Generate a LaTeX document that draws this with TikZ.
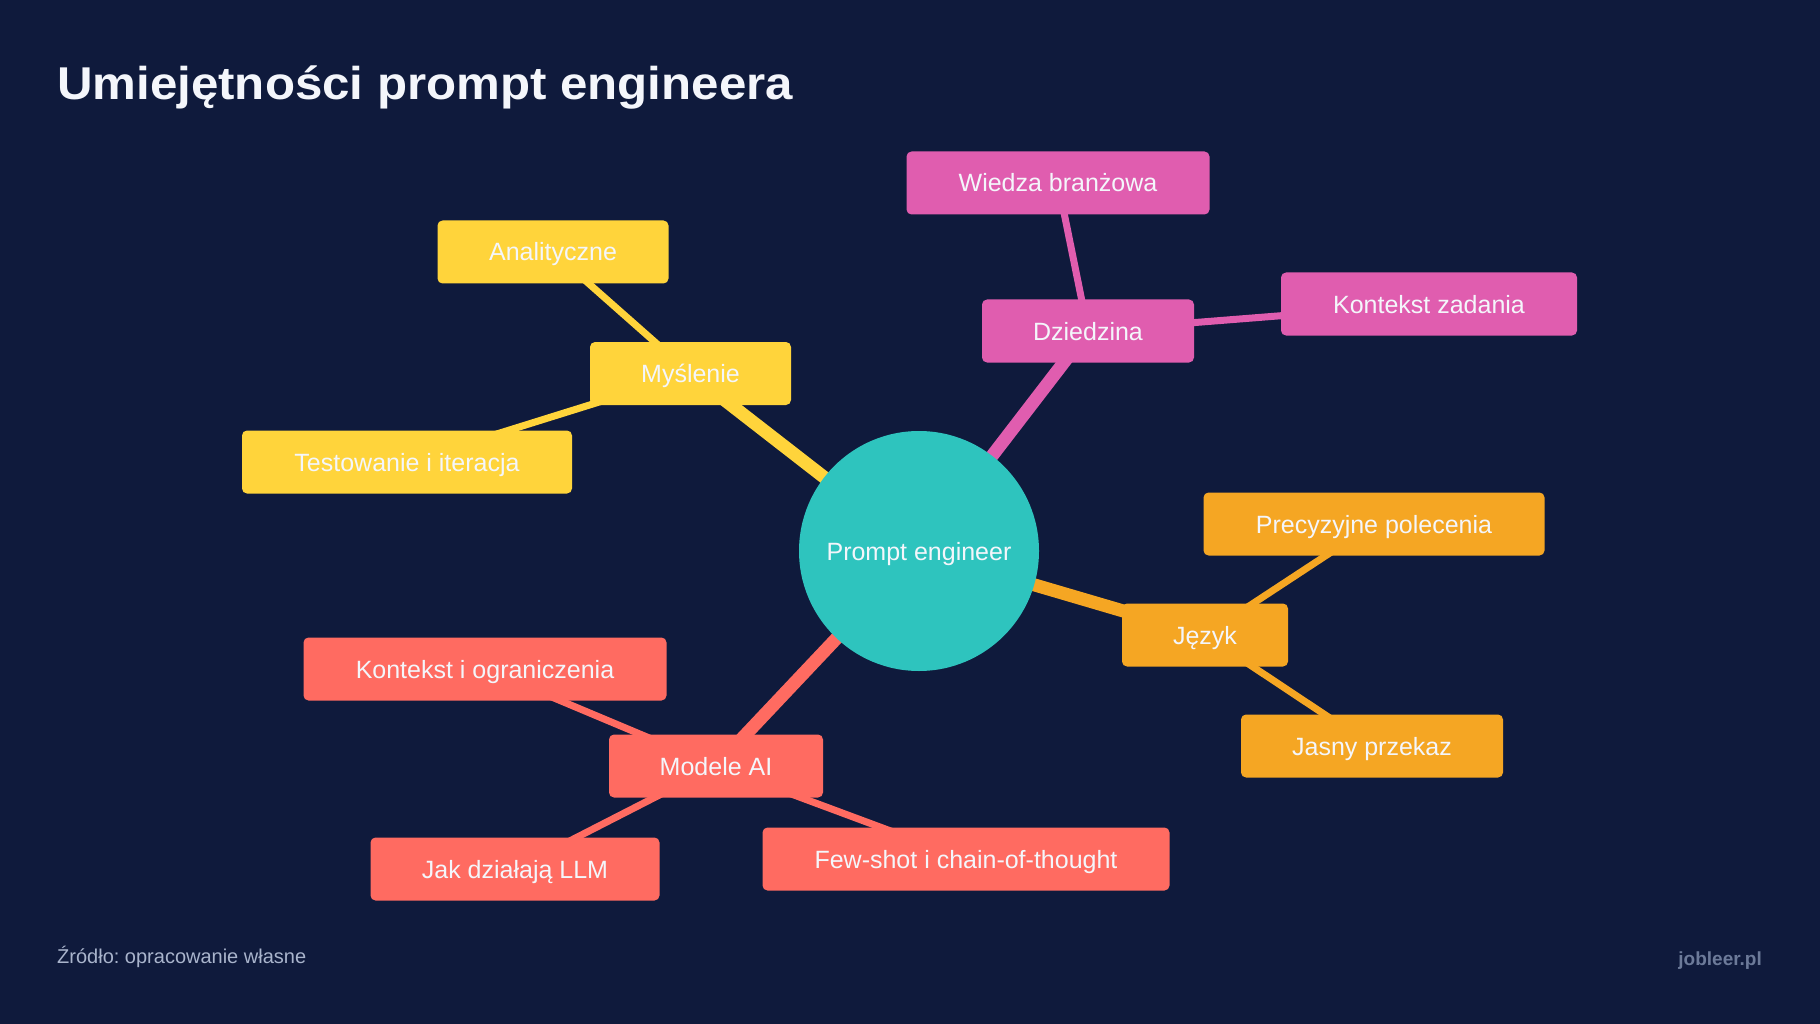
\documentclass[tikz,border=0pt]{standalone}
\usepackage{fontspec}
\setmainfont{Liberation Sans}
\newfontfamily\titlefont[FakeStretch=1.07]{Liberation Sans}
\frenchspacing
\definecolor{bgc}{HTML}{0F1A3C}
\definecolor{cyel}{HTML}{FFD43B}
\definecolor{cpink}{HTML}{E05DAF}
\definecolor{corange}{HTML}{F5A623}
\definecolor{ccoral}{HTML}{FF6B61}
\definecolor{cteal}{HTML}{2EC4BE}
\definecolor{ctxt}{HTML}{F4F6FB}
\definecolor{cfoot}{HTML}{A9B4CC}
\definecolor{cbrand}{HTML}{6C7A99}
\pgfdeclarelayer{bg}
\pgfdeclarelayer{edges}
\pgfsetlayers{bg,edges,main}
\tikzset{
  box/.style={rounded corners=5pt, minimum height=63pt, inner sep=0pt, text=ctxt,
    text height=18pt, text depth=0pt, font=\fontsize{25}{30}\selectfont},
  mainedge/.style={line width=13pt},
  leafedge/.style={line width=7pt},
}
\begin{document}
\begin{tikzpicture}[x=1pt,y=-1pt]
\begin{pgfonlayer}{bg}
\fill[bgc] (0,0) rectangle (1820,1024);
\end{pgfonlayer}
\useasboundingbox (0,0) rectangle (1820,1024);

\node[anchor=base west, text=ctxt, font=\titlefont\bfseries\fontsize{46}{50}\selectfont, inner sep=0pt] (title) at (57,100) {Umiejętności prompt engineera};

\node[circle, fill=cteal, minimum size=240pt, inner sep=0pt, text=ctxt, text height=18pt, text depth=0pt, font=\fontsize{25}{30}\selectfont] (c) at (919,551) {Prompt engineer};

\node[box, fill=cyel, minimum width=201pt] (m) at (690.5,373.5) {Myślenie};
\node[box, fill=cyel, minimum width=231pt] (a1) at (553,252) {Analityczne};
\node[box, fill=cyel, minimum width=330pt] (a2) at (407,462) {Testowanie i iteracja};

\node[box, fill=cpink, minimum width=212pt] (d) at (1088,331) {Dziedzina};
\node[box, fill=cpink, minimum width=303pt] (d1) at (1058,183) {Wiedza branżowa};
\node[box, fill=cpink, minimum width=296pt] (d2) at (1429,304) {Kontekst zadania};

\node[box, fill=corange, minimum width=166pt] (j) at (1205,635) {Język};
\node[box, fill=corange, minimum width=341pt] (j1) at (1374,524) {Precyzyjne polecenia};
\node[box, fill=corange, minimum width=262pt] (j2) at (1372,746) {Jasny przekaz};

\node[box, fill=ccoral, minimum width=214pt] (mo) at (716,766) {Modele AI};
\node[box, fill=ccoral, minimum width=363pt] (mo1) at (485,669) {Kontekst i ograniczenia};
\node[box, fill=ccoral, minimum width=289pt] (mo2) at (515,869) {Jak działają LLM};
\node[box, fill=ccoral, minimum width=407pt] (mo3) at (966,859) {Few-shot i chain-of-thought};

\begin{pgfonlayer}{edges}
\draw[mainedge, cyel] (c.center) -- (m.center);
\draw[leafedge, cyel] (m.center) -- (a1.center);
\draw[leafedge, cyel] (m.center) -- (a2.center);
\draw[mainedge, cpink] (c.center) -- (d.center);
\draw[leafedge, cpink] (d.center) -- (d1.center);
\draw[leafedge, cpink] (d.center) -- (d2.center);
\draw[mainedge, corange] (c.center) -- (j.center);
\draw[leafedge, corange] (j.center) -- (j1.center);
\draw[leafedge, corange] (j.center) -- (j2.center);
\draw[mainedge, ccoral] (c.center) -- (mo.center);
\draw[leafedge, ccoral] (mo.center) -- (mo1.center);
\draw[leafedge, ccoral] (mo.center) -- (mo2.center);
\draw[leafedge, ccoral] (mo.center) -- (mo3.center);
\end{pgfonlayer}

\node[anchor=base west, text=cfoot, font=\fontsize{20}{24}\selectfont, inner sep=0pt] (src) at (57,963) {Źródło: opracowanie własne};
\node[anchor=base east, text=cbrand, font=\bfseries\fontsize{19}{23}\selectfont, inner sep=0pt] (brand) at (1762,965) {jobleer.pl};
\end{tikzpicture}
\end{document}
